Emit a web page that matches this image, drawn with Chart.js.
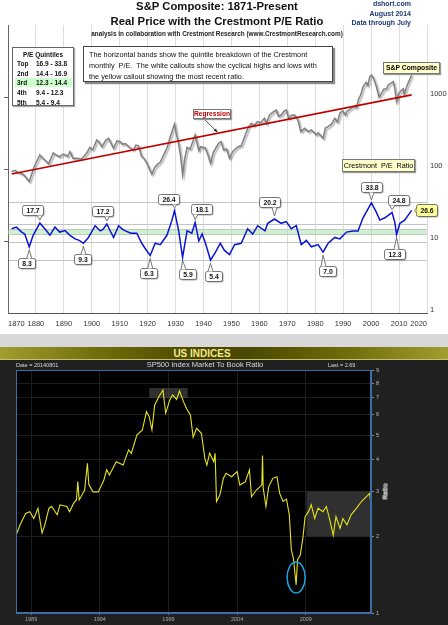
<!DOCTYPE html>
<html lang="en">
<head>
<meta charset="UTF-8">
<title>S&amp;P Composite P/E and SP500 Market To Book</title>
<script src="https://cdn.jsdelivr.net/npm/chart.js"></script>
<style>
  body { margin:0; width:448px; height:625px; background:#d8d8d8; position:relative; overflow:hidden;
         font-family:"Liberation Sans", Arial, sans-serif; }
  #topPanel { position:absolute; left:0; top:0; width:448px; height:334px; background:#fff; }
  #botPanel { position:absolute; left:0; top:360px; width:448px; height:265px; background:#202020; }
  canvas { position:absolute; left:0; top:0; }
  .abs { position:absolute; white-space:nowrap; }
  .t1 { left:0; width:434px; text-align:center; font-weight:bold; font-size:11.3px; color:#111; }
  .src { right:37px; text-align:right; font-weight:bold; font-size:7px; color:#1f3a78; }
  #quint { left:12px; top:47px; width:60px; height:57px; border:1px solid #666; background:#fff;
           font-size:6.5px; font-weight:bold; color:#111; box-shadow:1px 1px 1px #aaa; }
  .qrow { position:absolute; left:2px; width:57px; height:9px; line-height:9px; }
  .qrow span { position:absolute; }
  #desc { left:83px; top:46px; width:243px; height:32px; border:1px solid #444; background:#fff;
          font-size:7.3px; line-height:11px; padding:2px 0 0 5px; color:#111; box-shadow:2px 2px 1px #888; }
  .tag { height:10px; line-height:10px; text-align:center; border:1px solid #777; box-shadow:1px 1px 1px #999; }
  #usBar { left:0; top:347px; width:448px; height:12px; line-height:13px; text-align:center;
           background:linear-gradient(to right,#a09e2c 0%,#6a6808 25%,#4a4800 45%,#4a4800 55%,#6a6808 75%,#a09e2c 100%);
           border-bottom:1px solid #c9c26a; font-weight:bold; font-size:10px; color:#f4ea8c; }
  .bt { color:#d8d8d8; }
</style>
</head>
<body>
<div id="topPanel">
  <canvas id="spChart" width="448" height="334"></canvas>
  <div class="abs t1" style="top:0px">S&amp;P Composite: 1871-Present</div>
  <div class="abs t1" style="top:15px">Real Price with the Crestmont P/E Ratio</div>
  <div class="abs" style="left:0;width:434px;top:30px;text-align:center;font-weight:bold;font-size:6.4px;color:#222">analysis in collaboration with Crestmont Research (www.CrestmontResearch.com)</div>
  <div class="abs src" style="top:0px">dshort.com</div>
  <div class="abs src" style="top:9.5px">August 2014</div>
  <div class="abs src" style="top:19px">Data through July</div>
  <div id="quint" class="abs">
    <div style="text-align:center;margin-top:3px">P/E Quintiles</div>
  </div>
  <div id="desc" class="abs">The horizontal bands show the quintile breakdown of the Crestmont<br>monthly&nbsp; P/E.&nbsp; The white callouts show the cyclical highs and lows with<br>the yellow callout showing the most recent ratio.</div>
  <div class="abs tag" style="left:383px;top:62px;width:55px;background:#ffffcc;font-weight:bold;font-size:6.8px">S&amp;P Composite</div>
  <div class="abs tag" style="left:342px;top:159px;width:71px;height:11px;line-height:11px;background:#ffffcc;font-size:7.2px">Crestmont&nbsp; P/E&nbsp; Ratio</div>
  <div class="abs tag" style="left:193px;top:109px;width:36px;height:8px;line-height:8px;background:#fff;color:#c00000;font-weight:bold;font-size:6.6px">Regression</div>
</div>

<div id="usBar" class="abs"><span style="position:relative;left:-22px">US INDICES</span></div>

<div id="botPanel">
  <canvas id="pbChart" width="448" height="265"></canvas>
</div>
<div class="abs bt" style="left:16px;top:362px;font-size:5.5px">Date = 20140801</div>
<div class="abs bt" style="left:0;width:410px;top:360px;text-align:center;font-size:7.5px">SP500 Index Market To Book Ratio</div>
<div class="abs bt" style="left:328px;top:362px;font-size:5.5px">Last = 2.69</div>
<div class="abs" style="left:373px;top:488px;width:24px;text-align:center;font-size:6.5px;font-weight:bold;color:#fff;transform:rotate(-90deg)">Ratio</div>

<script>
// ---- top chart data: real S&P Composite, regression, Crestmont P/E ----
const spYears = [1871.3,1872.5,1873.5,1874.3,1875.5,1877.6,1878.5,1879.5,1880.2,1881.4,1882.5,1883.2,1884.5,1886.2,1887,
  1888.5,1889.5,1890.5,1891.3,1892.2,1893.3,1894.6,1896.3,1897.2,1898.2,1899.3,1900.3,1901.8,1902.5,1903.6,1905,1906,
  1907.8,1909,1910.2,1911,1912,1913.5,1914.9,1915.8,1916.7,1917.8,1918.7,1919.7,1920.9,1921.5,1922.5,1923.3,1924.5,
  1925.7,1927,1928.1,1929.6,1930.3,1931,1931.8,1932.5,1933.3,1934.1,1935.2,1937,1938.3,1938.9,1940.6,1941.5,1942.5,
  1943.5,1945.4,1946.3,1947.2,1948.3,1949.3,1950.5,1952.3,1953.5,1954.7,1956,1957.1,1958,1959.4,1960.5,1961.8,1962.5,
  1963.6,1965,1966,1966.8,1967.8,1968.9,1969.6,1970.5,1971.5,1972.6,1973.8,1974.8,1976.2,1977.5,1978.6,1980.4,1981,
  1982.8,1983.6,1984.6,1985.8,1987,1987.9,1988.8,1989.8,1990.8,1991.2,1992.5,1993.6,1994.8,1995.4,1996.3,1997.1,
  1998.2,1998.8,1999.5,2000.1,2000.8,2001.9,2002.8,2003.7,2004.5,2005.5,2006.1,2007.9,2008.5,2009.1,2009.8,2010.9,
  2011.5,2011.8,2012.7,2013.5,2014.5];
const spValues = [92,96,90,88,84,67,85,110,126,156,140,133,118,167,158,
  148,160,158,150,174,140,141,138,150,167,200,185,253,240,204,250,267,
  194,245,239,220,225,200,184,215,210,150,140,120,95,85,105,114,125,
  156,200,281,420,300,230,150,83,140,200,190,297,180,204,196,160,120,
  170,227,240,184,190,141,175,204,210,281,380,431,400,454,440,506,430,
  562,620,659,540,562,640,659,500,560,562,479,330,367,330,348,297,320,
  267,370,387,420,506,450,594,640,560,625,680,733,720,909,1080,1390,
  1600,1450,1900,2021,1850,1390,1000,1125,1280,1300,1468,1633,1300,870,1100,1250,
  1300,1100,1390,1650,2021];
const regYears = [1871.3, 2014.5];
const regValues = [85, 1070];
const peYears = [1871.3,1873,1874.9,1876,1877.6,1879,1881.4,1883.2,1885,1886.8,1888.5,1890.4,1892.2,1894,1895.5,1897,
  1898.8,1900,1901.2,1903,1904,1905.4,1906.5,1907.8,1909.6,1911,1912,1914,1916.1,1917.9,1919,1920.9,1922.7,1924.5,
  1926.9,1928.7,1929.6,1931.1,1932.5,1934.1,1935.8,1937,1938.3,1939.5,1940.7,1942.5,1944.3,1946,1947.5,1949.3,1951.1,
  1953.5,1955.8,1957.6,1959.4,1962,1963,1965.4,1967.8,1969.6,1971.4,1973.2,1975,1976.8,1978.6,1981,1982.8,1984.6,
  1987,1988.8,1991.2,1993.5,1995.3,1997.1,2000.1,2001.9,2003.1,2004.9,2007.5,2008.5,2009.1,2010.3,2012,2014.5];
const peValues = [14.8,15.6,13.3,12.5,8.3,12,17.7,14.8,12,15.6,13.3,14,12,10.7,10.2,9.3,
  11.2,13.5,16.3,13.8,14.5,17.2,14,11.2,16.3,14.5,13.8,12.8,12.8,9.3,8,6.3,9.3,8.9,
  12,19.5,26.4,13.8,5.9,13.8,12.8,18.1,10,12.5,9.3,5.4,7,9.3,7.4,6.5,8.9,
  9.3,14.8,12.5,16.3,13.8,17.6,20.2,17.6,18.6,14.8,16.3,8.9,10.2,8.3,8.9,7.0,9.3,
  11.2,10.7,13.3,13.8,13.8,21,33.8,25,19.5,21,24.8,18,12.3,17.6,19.5,26.6];
const peCalloutYears = [1877.6,1881.4,1897,1905.4,1920.9,1929.6,1932.5,1937,1942.5,1965.4,1982.8,2000.1,2007.5,2009.1,2014.5];
const decadeTicks = [1870,1880,1890,1900,1910,1920,1930,1940,1950,1960,1970,1980,1990,2000,2010,2020];
const priceTicks = [1, 10, 100, 1000];
const quintileNames = ['Top', '2nd', '3rd', '4th', '5th'];
const quintileBounds = [33.8, 16.9, 14.4, 12.3, 9.4, 5.4];

// ---- bottom chart data: SP500 market to book ----
const pbYears = [1987.9,1988.2,1988.6,1988.9,1989.2,1989.5,1989.8,1990.0,1990.3,1990.5,1990.9,1991.1,1991.6,1991.8,
  1992.1,1992.3,1992.4,1992.5,1992.9,1993.1,1993.2,1993.5,1993.9,1994.3,1994.5,1994.7,1995.2,1995.7,1996.1,1996.3,
  1996.7,1997.1,1997.4,1997.6,1997.8,1998.0,1998.3,1998.6,1998.8,1999.1,1999.3,1999.6,1999.8,2000.1,2000.3,2000.6,
  2000.8,2001.05,2001.4,2001.65,2001.8,2002.0,2002.3,2002.4,2002.5,2002.75,2003.0,2003.2,2003.6,2004.0,2004.2,
  2004.6,2004.9,2005.05,2005.4,2005.8,2005.85,2005.9,2006.1,2006.3,2006.6,2006.9,2007.1,2007.35,2007.6,2007.8,
  2007.95,2008.1,2008.3,2008.4,2008.6,2008.8,2008.95,2009.2,2009.4,2009.65,2009.9,2010.25,2010.5,2010.75,2011.0,
  2011.2,2011.5,2011.7,2012.0,2012.3,2012.7,2013.05,2013.4,2013.65,2013.75];
const pbValues = [2.02,2.22,2.46,2.5,2.35,2.58,2.06,2.22,2.58,2.62,2.43,2.66,2.62,2.5,
  2.7,2.78,3.28,2.78,3.04,3.87,3.2,2.99,2.99,3.33,3.65,3.48,3.93,3.81,4.37,4.24,
  5.0,5.23,6.18,5.9,5.23,6.56,7.07,7.51,6.09,6.87,7.18,6.9,7.45,6.76,6.37,6.0,
  4.9,5.31,5.08,4.05,3.81,4.24,3.93,4.24,2.74,2.91,3.38,3.54,3.43,3.59,3.18,
  3.28,3.65,2.86,3.04,3.18,4.15,3.1,2.62,3.13,3.38,3.43,2.95,2.74,2.8,2.43,
  1.77,1.64,1.29,1.62,1.69,1.99,2.39,2.5,2.66,2.35,2.58,2.5,2.62,2.32,2.02,
  2.39,2.15,2.35,2.22,2.43,2.58,2.74,2.86,2.95,2.69];
const pbTickYears = [1989, 1994, 1999, 2004, 2009];
const pbRatioTicks = [1, 2, 3, 4, 5, 6, 7, 8, 9];
// shaded ranges [x0, x1, y0, y1] and circled low
const pbShadeRanges = [[1997.6, 2000.4, 6.98, 7.65], [2009.05, 2013.75, 2, 3]];
const pbCircleAt = [2008.3, 1.38];

Chart.defaults.font.family = "'Liberation Sans', Arial, sans-serif";

// quintile legend rows
const quint = document.getElementById('quint');
quintileNames.forEach((name, i) => {
  const row = document.createElement('div');
  row.className = 'qrow';
  row.style.top = (11 + i * 9.7) + 'px';
  if (name === '3rd') row.style.background = '#ccffcc';
  row.innerHTML = '<span style="left:2px">' + name + '</span><span style="left:21px">' +
    quintileBounds[i + 1] + ' - ' + quintileBounds[i] + '</span>';
  quint.appendChild(row);
});

const toXY = (xs, ys) => xs.map((x, i) => ({ x: x, y: ys[i] }));

// callout offsets from the point to the box centre, same order as peCalloutYears
const calloutOffsets = [[-3,16],[-7,-13],[-1,16],[-4,-13],[-2,18],[-6,-12],[5,17],[6,-13.5],[3,16],
  [-5,-17],[4,19],[0,-16],[6,-13],[-2,19],[15,0]];

const topDecor = {
  id: 'topDecor',
  beforeDatasetsDraw(chart) {
    const { ctx, chartArea: a, scales: { y } } = chart;
    const y1 = y.getPixelForValue(quintileBounds[2]), y2 = y.getPixelForValue(quintileBounds[3]);
    ctx.save();
    ctx.fillStyle = 'rgba(170,225,170,0.55)';
    ctx.fillRect(a.left, y1, a.right - a.left, y2 - y1);
    ctx.restore();
  },
  beforeDatasetDraw(chart, args) {
    if (args.index !== 1) return;
    const ctx = chart.ctx;
    ctx.save();
    ctx.shadowColor = 'rgba(0,0,0,0.35)';
    ctx.shadowOffsetX = 1.5;
    ctx.shadowOffsetY = 1.5;
    ctx.shadowBlur = 1.5;
  },
  afterDatasetDraw(chart, args) {
    if (args.index === 1) chart.ctx.restore();
  },
  afterDatasetsDraw(chart) {
    const { ctx, scales: { x, y } } = chart;
    // regression pointer
    const ry = Math.pow(10, Math.log10(regValues[0]) +
      (Math.log10(regValues[1]) - Math.log10(regValues[0])) * (1945 - regYears[0]) / (regYears[1] - regYears[0]));
    const tx = x.getPixelForValue(1945), ty = y.getPixelForValue(ry) - 1;
    ctx.save();
    ctx.strokeStyle = '#222';
    ctx.fillStyle = '#222';
    ctx.lineWidth = 0.8;
    ctx.beginPath(); ctx.moveTo(203, 118); ctx.lineTo(tx, ty); ctx.stroke();
    const ang = Math.atan2(ty - 118, tx - 203);
    ctx.beginPath();
    ctx.moveTo(tx, ty);
    ctx.lineTo(tx - 4 * Math.cos(ang - 0.4), ty - 4 * Math.sin(ang - 0.4));
    ctx.lineTo(tx - 4 * Math.cos(ang + 0.4), ty - 4 * Math.sin(ang + 0.4));
    ctx.fill();
    ctx.restore();

    // P/E high / low callouts
    peCalloutYears.forEach((yr, i) => {
      const v = peValues[peYears.indexOf(yr)];
      const last = i === peCalloutYears.length - 1;
      const px = x.getPixelForValue(yr), py = y.getPixelForValue(v);
      const [dx, dy] = calloutOffsets[i];
      const label = v.toFixed(1);
      ctx.save();
      ctx.font = 'bold 6.8px "Liberation Sans", Arial, sans-serif';
      const w = Math.round(ctx.measureText(label).width + 8), h = last ? 12 : 10;
      const bx = Math.round(px + dx - w / 2) + 0.5, by = Math.round(py + dy - h / 2) + 0.5;
      const fill = last ? '#ffff99' : '#ffffff';
      ctx.shadowColor = 'rgba(0,0,0,0.35)';
      ctx.shadowOffsetX = 1; ctx.shadowOffsetY = 1; ctx.shadowBlur = 1;
      ctx.fillStyle = fill;
      ctx.strokeStyle = '#555';
      ctx.lineWidth = 0.8;
      ctx.beginPath(); ctx.roundRect(bx, by, w, h, 2); ctx.fill();
      ctx.shadowColor = 'transparent';
      ctx.stroke();
      // pointer
      let b1, b2, tip;
      if (Math.abs(dy) > Math.abs(dx)) {
        const ex = Math.min(Math.max(px, bx + 4), bx + w - 4);
        const ey = dy < 0 ? by + h : by;
        const s = dy < 0 ? 1 : -1;
        b1 = [ex - 2.5, ey]; b2 = [ex + 2.5, ey]; tip = [px, py - s * 3];
        if (Math.abs(tip[1] - ey) < 2) tip[1] = ey + s * 3;
      } else {
        const ex = dx > 0 ? bx : bx + w;
        b1 = [ex, by + h / 2 - 2.5]; b2 = [ex, by + h / 2 + 2.5]; tip = [px + (dx > 0 ? 3 : -3), py];
      }
      ctx.beginPath(); ctx.moveTo(b1[0], b1[1]); ctx.lineTo(tip[0], tip[1]); ctx.lineTo(b2[0], b2[1]); ctx.closePath();
      ctx.fill();
      ctx.beginPath(); ctx.moveTo(b1[0], b1[1]); ctx.lineTo(tip[0], tip[1]); ctx.lineTo(b2[0], b2[1]); ctx.stroke();
      ctx.fillStyle = '#111';
      ctx.textAlign = 'center';
      ctx.textBaseline = 'middle';
      ctx.fillText(label, bx + w / 2, by + h / 2 + 0.5);
      ctx.restore();
    });
  }
};

new Chart(document.getElementById('spChart'), {
  type: 'line',
  data: {
    datasets: [
      { label: 'Regression', data: toXY(regYears, regValues), borderColor: '#c00000', borderWidth: 1.6, pointRadius: 0 },
      { label: 'S&P Composite', data: toXY(spYears, spValues), borderColor: '#808080', borderWidth: 1.5, pointRadius: 0 },
      { label: 'Crestmont P/E Ratio', data: toXY(peYears, peValues), borderColor: '#0a14d2', borderWidth: 1.5, pointRadius: 0 }
    ]
  },
  options: {
    responsive: false,
    animation: false,
    devicePixelRatio: 1,
    layout: { padding: { top: 25, left: 0, right: 0, bottom: 0 } },
    plugins: { legend: { display: false }, tooltip: { enabled: false } },
    scales: {
      x: {
        type: 'linear', min: 1870, max: 2020,
        afterBuildTicks: s => { s.ticks = decadeTicks.map(v => ({ value: v })); },
        afterFit: s => { s.height = 21; },
        ticks: { align: 'inner', color: '#333', font: { size: 7.5 }, padding: 6, maxRotation: 0, autoSkip: false,
                 callback: v => String(v) },
        grid: { color: '#dcdcdc', drawTicks: false },
        border: { color: '#555' }
      },
      y: {
        type: 'logarithmic', position: 'right', min: 1, max: 10000,
        afterBuildTicks: s => { s.ticks = priceTicks.concat(quintileBounds).map(v => ({ value: v })); },
        afterFit: s => { s.width = 21; },
        ticks: { color: '#333', font: { size: 7.5 }, padding: 3, labelOffset: -3, autoSkip: false,
                 callback: v => priceTicks.includes(v) ? String(v) : '' },
        grid: { drawTicks: false, color: c => quintileBounds.includes(c.tick.value) ? '#c4c4c4' : 'rgba(0,0,0,0)' },
        border: { display: false }
      },
      yl: {
        type: 'logarithmic', position: 'left', min: 1, max: 10000,
        afterBuildTicks: s => { s.ticks = [10, 100, 1000].map(v => ({ value: v })); },
        afterFit: s => { s.width = 8; },
        ticks: { display: false },
        grid: { drawOnChartArea: false, tickLength: 4, color: '#666' },
        border: { color: '#666' }
      }
    }
  },
  plugins: [topDecor]
});

const pbDecor = {
  id: 'pbDecor',
  beforeDraw(chart) {
    const { ctx, chartArea: a } = chart;
    ctx.save();
    ctx.fillStyle = '#000';
    ctx.fillRect(a.left, a.top, a.right - a.left, a.bottom - a.top);
    ctx.restore();
  },
  beforeDatasetsDraw(chart) {
    const { ctx, scales: { x, y } } = chart;
    ctx.save();
    ctx.fillStyle = 'rgba(80,80,80,0.6)';
    pbShadeRanges.forEach(([x0, x1, y0, y1]) => {
      const l = x.getPixelForValue(x0), r = x.getPixelForValue(x1);
      const t = y.getPixelForValue(y1), b = y.getPixelForValue(y0);
      ctx.fillRect(l, t, r - l, b - t);
    });
    ctx.restore();
  },
  afterDatasetsDraw(chart) {
    const { ctx, chartArea: a, scales: { x, y } } = chart;
    ctx.save();
    ctx.strokeStyle = '#1ea4e6';
    ctx.lineWidth = 1.5;
    ctx.beginPath();
    ctx.ellipse(x.getPixelForValue(pbCircleAt[0]), y.getPixelForValue(pbCircleAt[1]), 9, 15.5, 0, 0, Math.PI * 2);
    ctx.stroke();
    ctx.strokeStyle = '#3a6ea8';
    ctx.lineWidth = 1;
    ctx.strokeRect(a.left + 0.5, a.top + 0.5, a.right - a.left - 1, a.bottom - a.top - 1);
    ctx.restore();
  }
};

new Chart(document.getElementById('pbChart'), {
  type: 'line',
  data: {
    datasets: [
      { label: 'Market To Book', data: toXY(pbYears, pbValues), borderColor: '#e6e21e', borderWidth: 1.1, pointRadius: 0 }
    ]
  },
  options: {
    responsive: false,
    animation: false,
    devicePixelRatio: 1,
    layout: { padding: { top: 10, left: 16, right: 0, bottom: 0 } },
    plugins: { legend: { display: false }, tooltip: { enabled: false } },
    scales: {
      x: {
        type: 'linear', min: 1987.9, max: 2013.75,
        afterBuildTicks: s => { s.ticks = pbTickYears.map(v => ({ value: v })); },
        afterFit: s => { s.height = 12; },
        ticks: { color: '#aaa', font: { size: 5.5 }, padding: 1, maxRotation: 0, autoSkip: false, callback: v => String(v) },
        grid: { color: '#1e1e1e', tickLength: 2, tickColor: '#3a6ea8' },
        border: { color: '#3a6ea8' }
      },
      y: {
        type: 'logarithmic', position: 'right', min: 1, max: 9,
        afterBuildTicks: s => { s.ticks = pbRatioTicks.map(v => ({ value: v })); },
        afterFit: s => { s.width = 77; },
        ticks: { color: '#bbb', font: { size: 5.5 }, padding: 2, autoSkip: false, callback: v => String(v) },
        grid: { color: '#1e1e1e', tickLength: 3, tickColor: '#888' },
        border: { color: '#3a6ea8' }
      }
    }
  },
  plugins: [pbDecor]
});
</script>
</body>
</html>
